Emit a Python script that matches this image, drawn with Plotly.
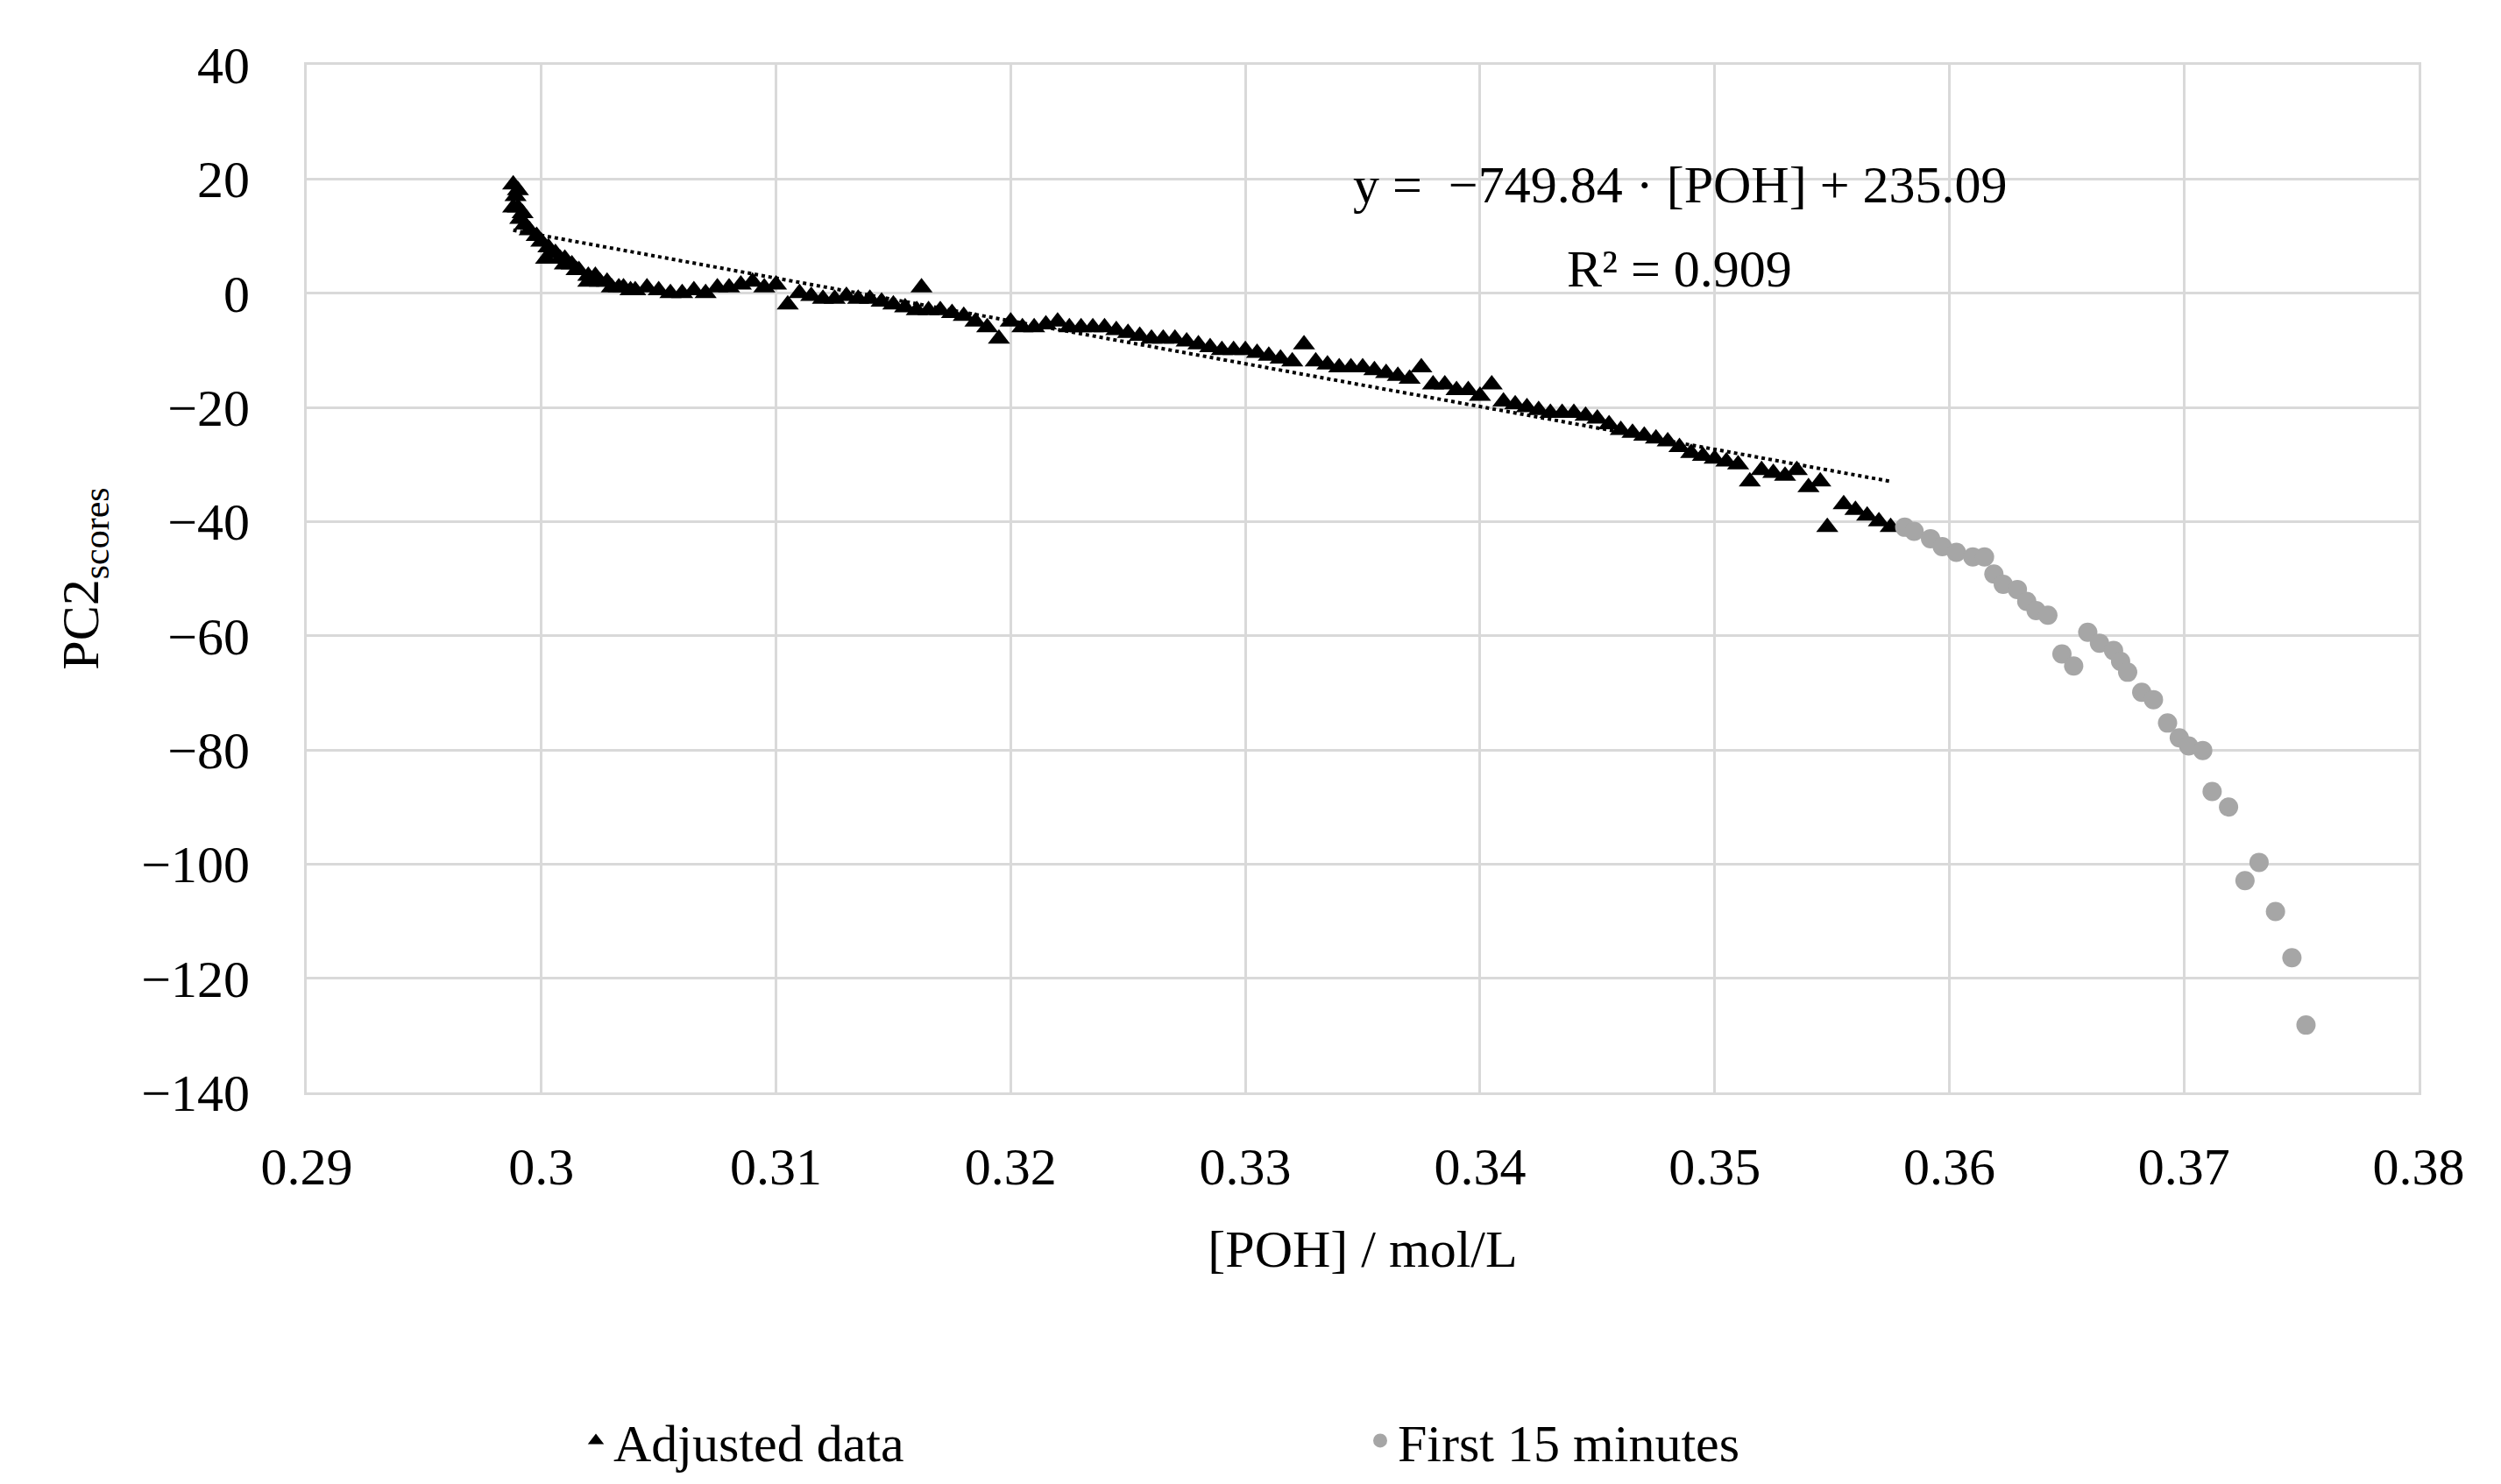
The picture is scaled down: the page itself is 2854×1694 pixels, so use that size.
import numpy as np
import plotly.graph_objects as go

# Adjusted data (triangles)
adj_x = [0.2988, 0.2988, 0.2989, 0.2990, 0.2990, 0.2991, 0.2992, 0.2993, 0.2995, 0.2998,
         0.3000, 0.3002, 0.3003, 0.3006, 0.3010, 0.3010, 0.3013, 0.3016, 0.3020, 0.3020,
         0.3025, 0.3030, 0.3035, 0.3040, 0.3050, 0.3060, 0.3070, 0.3080, 0.3090, 0.3100,
         0.3105, 0.3110, 0.3120, 0.3130, 0.3140, 0.3150, 0.3160, 0.3162, 0.3170, 0.3180,
         0.3190, 0.3195, 0.3200, 0.3210, 0.3220, 0.3230, 0.3240, 0.3250, 0.3260, 0.3270,
         0.3280, 0.3290, 0.3300, 0.3310, 0.3320, 0.3325, 0.3330, 0.3340, 0.3350, 0.3360,
         0.3370, 0.3375, 0.3380, 0.3390, 0.3400, 0.3405, 0.3410, 0.3420, 0.3430, 0.3440,
         0.3450, 0.3460, 0.3470, 0.3480, 0.3485, 0.3490, 0.3500, 0.3510, 0.3515, 0.3520,
         0.3530, 0.3535, 0.3540, 0.3548, 0.3555, 0.3560, 0.3565, 0.3570, 0.3575,
         0.3004, 0.3008, 0.3015, 0.3023, 0.3028, 0.3033, 0.3038, 0.3045, 0.3055, 0.3065,
         0.3075, 0.3085, 0.3095, 0.3115, 0.3125, 0.3135, 0.3145, 0.3155, 0.3165, 0.3175,
         0.3185, 0.3205, 0.3215, 0.3225, 0.3235, 0.3245, 0.3255, 0.3265, 0.3275, 0.3285,
         0.3295, 0.3305, 0.3315, 0.3335, 0.3345, 0.3355, 0.3365, 0.3385, 0.3395, 0.3415,
         0.3425, 0.3435, 0.3445, 0.3455, 0.3465, 0.3475, 0.3495, 0.3505, 0.3525, 0.3545]
adj_y = [19, 15, 17, 15, 18, 13, 14, 12, 11, 10,
         9, 6, 8, 7, 6, 5, 5, 4, 3, 2,
         2, 1, 1, 0.5, 0.5, 0, 0, 1, 2, 1.5,
         -2, 0, -1, -0.5, -1, -2, -3, 1, -3, -4,
         -6, -8, -5, -6, -5, -6, -6, -7, -8, -8,
         -9, -10, -10, -11, -12, -9, -12, -13, -13, -14,
         -15, -13, -16, -17, -18, -16, -19, -20, -21, -21,
         -22, -24, -25, -26, -27, -28, -29, -30, -33, -31,
         -32, -31, -34, -41, -37, -38, -39, -40, -41,
         7, 6, 4, 3, 2, 1, 0.5, 1, 0, 0.5,
         1, 1.5, 1, -0.5, -1, -1, -1.5, -2.5, -3, -3.5,
         -5, -6, -5.5, -6, -6, -6.5, -7.5, -8, -8.5, -9.5,
         -10, -10.5, -11.5, -12.5, -13, -13.5, -14.5, -16, -17, -19.5,
         -20.5, -21, -21.5, -23, -24.5, -25.5, -28.5, -29.5, -31.5, -33]

# First 15 minutes (grey circles)
first_x = [0.3581, 0.3585, 0.3592, 0.3597, 0.3603, 0.3610, 0.3615, 0.3619, 0.3623, 0.3629,
           0.3633, 0.3637, 0.3642, 0.3648, 0.3653, 0.3659, 0.3664, 0.3670, 0.3673, 0.3676,
           0.3682, 0.3687, 0.3693, 0.3698, 0.3702, 0.3708, 0.3712, 0.3719, 0.3726, 0.3732,
           0.3739, 0.3746, 0.3752]
first_y = [-41, -41.7, -43, -44.4, -45.4, -46.2, -46.2, -49.2, -51, -51.9,
           -54, -55.6, -56.4, -63.2, -65.3, -59.4, -61.3, -62.6, -64.5, -66.4,
           -69.9, -71.2, -75.3, -77.9, -79.3, -80.1, -87.3, -90, -102.9, -99.7,
           -108.3, -116.4, -128.2]

# linear fit shown on chart
slope, intercept = -749.84, 235.09
fit_x = np.array([0.2988, 0.3575])

font = "Liberation Serif"
fig = go.Figure()
fig.add_trace(go.Scatter(x=fit_x, y=slope * fit_x + intercept, mode="lines",
                         line=dict(color="black", dash="dot", width=4), showlegend=False))
fig.add_trace(go.Scatter(x=adj_x, y=adj_y, mode="markers", name="Adjusted data",
                         marker=dict(symbol="triangle-up", color="black", size=22)))
fig.add_trace(go.Scatter(x=first_x, y=first_y, mode="markers", name="First 15 minutes",
                         marker=dict(symbol="circle", color="#a6a6a6", size=22)))

fig.add_annotation(x=0.3485, y=19, text="y =  −749.84 · [POH] + 235.09", showarrow=False,
                   font=dict(size=60, family=font, color="black"))
fig.add_annotation(x=0.3485, y=4.3, text="R² = 0.909", showarrow=False,
                   font=dict(size=60, family=font, color="black"))

axis = dict(showgrid=True, gridcolor="#d9d9d9", gridwidth=3, showline=True, linecolor="#d9d9d9",
            linewidth=3, mirror=True, zeroline=False, ticks="",
            tickfont=dict(size=60, family=font, color="black"))
fig.update_xaxes(range=[0.29, 0.38], dtick=0.01, tickformat="~r", ticklabelstandoff=30,
                 title=dict(text="[POH] / mol/L", standoff=40,
                            font=dict(size=60, family=font, color="black")), **axis)
fig.update_yaxes(range=[-140, 40], dtick=20, ticklabelstandoff=50,
                 title=dict(text="PC2<sub>scores</sub>", standoff=30,
                            font=dict(size=60, family=font, color="black")), **axis)

fig.update_layout(
    width=2854, height=1694, plot_bgcolor="white", paper_bgcolor="white",
    margin=dict(l=342, r=102, t=66, b=408),
    legend=dict(orientation="h", x=0.5, xanchor="center", y=-0.3, yanchor="top",
                font=dict(size=60, family=font, color="black"), entrywidth=850,
                tracegroupgap=0),
)
fig.write_html("out.html")
